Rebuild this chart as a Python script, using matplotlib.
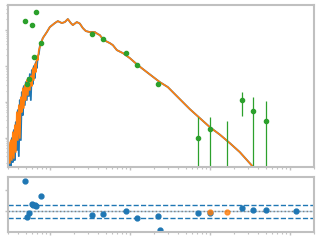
import matplotlib
matplotlib.use("Agg")
import matplotlib.pyplot as plt

# model spectrum, noisy short-wavelength part (blue = full res, orange = binned)
noisy_wave = [0.2985, 0.3073, 0.3162, 0.3255, 0.3350, 0.3448, 0.3548, 0.3652,
              0.3758, 0.3868, 0.3981, 0.4097, 0.4217, 0.4340, 0.4467, 0.4597,
              0.4732, 0.4870, 0.5012, 0.5158, 0.5309, 0.5464, 0.5623, 0.5788,
              0.5957, 0.6131, 0.6310, 0.6494, 0.6683, 0.6879, 0.7079, 0.7286,
              0.7499]
noisy_blue = [4.45e-13, 1.49e-13, 6.13e-13, 1.59e-13, 9.62e-13, 2.055e-13, 1.61e-12, 2.34e-13,
              2.69e-12, 4.45e-13, 5.83e-12, 3.02e-13, 1.11e-11, 8.46e-13, 1.85e-11, 4.22e-12,
              2.73e-11, 8.04e-12, 3.53e-11, 1.11e-11, 4.56e-11, 1.434e-11, 5.90e-11, 1.11e-11,
              7.63e-11, 3.10e-11, 9.87e-11, 4.56e-11, 1.277e-10, 8.68e-11, 1.88e-10, 2.14e-10,
              3.57e-10]
noisy_orange = [1.69e-13, 7.44e-13, 1.93e-13, 8.46e-13, 2.34e-13, 1.415e-12, 2.66e-13, 2.22e-12,
                3.91e-13, 5.12e-12, 8.46e-13, 8.04e-12, 9.62e-13, 1.34e-11, 5.12e-12, 2.40e-11,
                6.63e-12, 2.91e-11, 1.11e-11, 4.01e-11, 1.53e-11, 4.56e-11, 2.11e-11, 5.19e-11,
                2.73e-11, 8.68e-11, 4.01e-11, 1.123e-10, 6.71e-11, 1.88e-10, 1.45e-10, 2.76e-10,
                3.35e-10]

# smooth long-wavelength part, shared by both models
tail_wave = [0.8176, 0.9173, 1.0, 1.155, 1.259, 1.413, 1.540, 1.679, 1.830, 1.939,
             2.175, 2.371, 2.585, 2.818, 3.162, 3.652, 3.981, 4.217, 4.597, 5.012,
             5.623, 6.131, 6.879, 8.175, 10.0, 12.59, 16.31, 23.71, 29.85, 42.17,
             56.23, 74.99, 100.0, 133.4, 177.8, 237.1, 344.7, 421.7]
tail_flux = [5.98e-10, 8.79e-10, 1.213e-9, 1.569e-9, 1.78e-9, 1.569e-9, 1.674e-9, 2.03e-9,
             1.569e-9, 1.38e-9, 1.674e-9, 1.519e-9, 1.137e-9, 9.38e-10, 8.79e-10, 8.79e-10,
             7.73e-10, 7.25e-10, 5.61e-10, 4.93e-10, 4.33e-10, 3.81e-10, 2.76e-10, 2.28e-10,
             1.65e-10, 1.05e-10, 6.71e-11, 3.53e-11, 2.56e-11, 1.18e-11, 6.21e-12, 3.48e-12,
             1.95e-12, 1.205e-12, 6.98e-13, 3.91e-13, 1.54e-13, 8.9e-14]

# photometry
phot_wave = [0.487, 0.520, 0.551, 0.596, 0.637, 0.668, 0.778, 3.35, 4.64, 8.99,
             12.3, 22.6, 71.4, 100.0, 164.0, 253.0, 348.0, 501.0]
phot_flux = [1.75e-9, 3.04e-11, 4.2e-11, 1.35e-9, 1.73e-10, 3.12e-9, 4.33e-10, 7.73e-10,
             5.5e-10, 2.24e-10, 1.03e-10, 3.16e-11, 1.0e-12, 1.72e-12, 5e-14, 1.11e-11,
             5.36e-12, 2.82e-12]
phot_err = [0, 0, 0, 0, 0, 0, 0, 0, 0, 0, 0, 0,
            2.8e-12, 2.0e-12, 2.88e-12, 7.1e-12, 7.8e-12, 7.4e-12]

# residuals
resid_wave = [0.487, 0.520, 0.551, 0.596, 0.618, 0.644, 0.674, 0.772, 3.38, 4.64,
              8.99, 12.3, 22.6, 23.9, 71.4, 100.0, 253.0, 348.0, 501.0, 1199.0]
resid_val = [1.41, -0.28, -0.09, 0.34, 0.31, 0.28, 0.23, 0.72, -0.19, -0.14,
             0.0, -0.33, -0.23, -0.89, -0.09, -0.07, 0.14, 0.05, 0.05, 0.0]
lim_wave = [100.0, 164.0]
lim_val = [-0.03, -0.02]

SPINE = "#c0c0c0"


def style_axes(ax):
    for s in ax.spines.values():
        s.set_color(SPINE)
        s.set_linewidth(1.5)
    ax.tick_params(which="major", length=2.5, width=1, color=SPINE,
                   labelbottom=False, labelleft=False)
    ax.tick_params(which="minor", length=1.5, width=0.8, color=SPINE)


def main():
    fig = plt.figure(figsize=(3.2, 2.4), dpi=100)
    ax = fig.add_axes([0.025, 0.304, 0.956, 0.675])
    rax = fig.add_axes([0.025, 0.0333, 0.956, 0.229])

    ax.plot(noisy_wave + tail_wave, noisy_blue + tail_flux, color="tab:blue", lw=1.3)
    ax.plot(noisy_wave + tail_wave, noisy_orange + tail_flux, color="tab:orange", lw=1.2)
    ax.errorbar(phot_wave, phot_flux, yerr=phot_err, fmt="o", color="tab:green",
                ms=3, elinewidth=0.9, capsize=0)
    ax.set_xscale("log")
    ax.set_yscale("log")
    ax.set_xlim(0.3, 2000)
    ax.set_ylim(1.5e-13, 5e-9)
    style_axes(ax)

    rax.axhline(0, color="tab:blue", lw=1, alpha=0.35)
    rax.axhline(0, color="gray", lw=1, ls=":")
    rax.axhline(0.3, color="tab:blue", lw=1, ls="--")
    rax.axhline(-0.3, color="tab:blue", lw=1, ls="--")
    rax.plot(resid_wave, resid_val, "o", color="tab:blue", ms=3.5)
    rax.plot(lim_wave, lim_val, "o", color="tab:orange", ms=3.5, alpha=0.8)
    rax.set_xscale("log")
    rax.set_xlim(0.3, 2000)
    rax.set_ylim(-0.97, 1.61)
    rax.set_yticks([0, 1])
    style_axes(rax)

    fig.savefig("out.png", dpi=100)


if __name__ == "__main__":
    main()
